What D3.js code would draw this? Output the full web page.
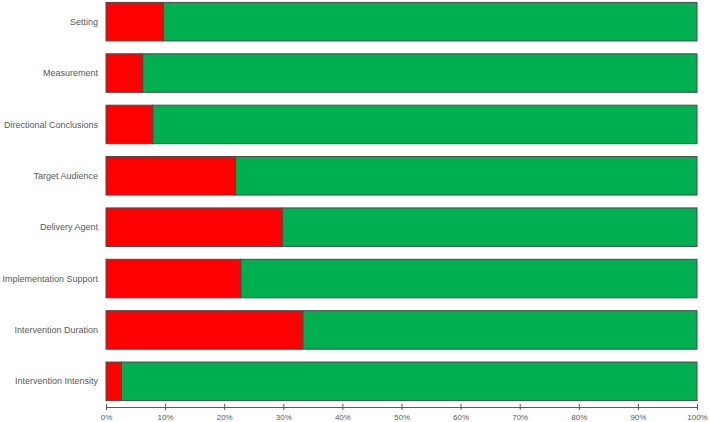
<!DOCTYPE html>
<html>
<head>
<meta charset="utf-8">
<script src="https://cdn.jsdelivr.net/npm/d3@7"></script>
<style>
  body { margin: 0; background: #fff; }
  text { font-family: "Liberation Sans", Arial, sans-serif; }
</style>
</head>
<body>
<div id="mychart"></div>
<script>
// stacked 100% bars: share not met (red) vs met (green)

const chartTarget = "#mychart"

// data
const categories = [
  "Setting",
  "Measurement",
  "Directional Conclusions",
  "Target Audience",
  "Delivery Agent",
  "Implementation Support",
  "Intervention Duration",
  "Intervention Intensity"
]
const redValues = [9.7, 6.2, 7.9, 21.9, 29.8, 22.8, 33.3, 2.6]
const greenValues = redValues.map(v => 100 - v)
const tickValues = [0, 10, 20, 30, 40, 50, 60, 70, 80, 90, 100]

const chartWidth = 709
const chartHeight = 422

const marginLeft = 106
const marginRight = 12
const axisY = 407

const xScale = d3.scaleLinear([0, 100], [marginLeft, chartWidth - marginRight])
const yScale = d3.scaleBand(categories, [-4, axisY])
  .paddingInner(0.25)
  .paddingOuter(0.125)

const rows = categories.map((c, i) => ({
  cat: c,
  red: redValues[i],
  green: greenValues[i]
}))

const svg = d3.select(chartTarget)
  .append("svg")
  .attr("width", chartWidth)
  .attr("height", chartHeight)
  .attr("viewBox", [0, 0, chartWidth, chartHeight])

// bars
const bars = svg.append("g")
  .selectAll("g")
  .data(rows)
  .join("g")

bars.append("rect")
  .attr("x", d => xScale(d.red))
  .attr("y", d => yScale(d.cat))
  .attr("width", d => xScale(100) - xScale(d.red))
  .attr("height", yScale.bandwidth())
  .attr("fill", "#00b050")
  .attr("stroke", "#4a4a4a")
  .attr("stroke-width", 1)

bars.append("rect")
  .attr("x", xScale(0))
  .attr("y", d => yScale(d.cat))
  .attr("width", d => xScale(d.red) - xScale(0))
  .attr("height", yScale.bandwidth())
  .attr("fill", "#ff0000")
  .attr("stroke", "#4a4a4a")
  .attr("stroke-width", 1)

// category labels
svg.append("g")
  .selectAll("text")
  .data(categories)
  .join("text")
  .attr("x", marginLeft - 8)
  .attr("y", d => yScale(d) + yScale.bandwidth() / 2)
  .attr("dy", "0.35em")
  .attr("text-anchor", "end")
  .attr("font-size", "9px")
  .attr("fill", "#595959")
  .text(d => d)

// x axis
const xAxis = d3.axisBottom(xScale)
  .tickValues(tickValues)
  .tickFormat(d => d + "%")
  .tickSizeInner(3)
  .tickSizeOuter(0)
  .tickPadding(4)

svg.append("g")
  .attr("transform", `translate(0,${axisY})`)
  .call(xAxis)
  .call(g => g.select(".domain").attr("stroke", "#595959"))
  .call(g => g.selectAll(".tick line")
    .attr("y1", -3)
    .attr("y2", 3)
    .attr("stroke", "#595959"))
  .call(g => g.selectAll(".tick text")
    .attr("fill", "#595959")
    .attr("font-size", "8px"))
</script>
</body>
</html>
